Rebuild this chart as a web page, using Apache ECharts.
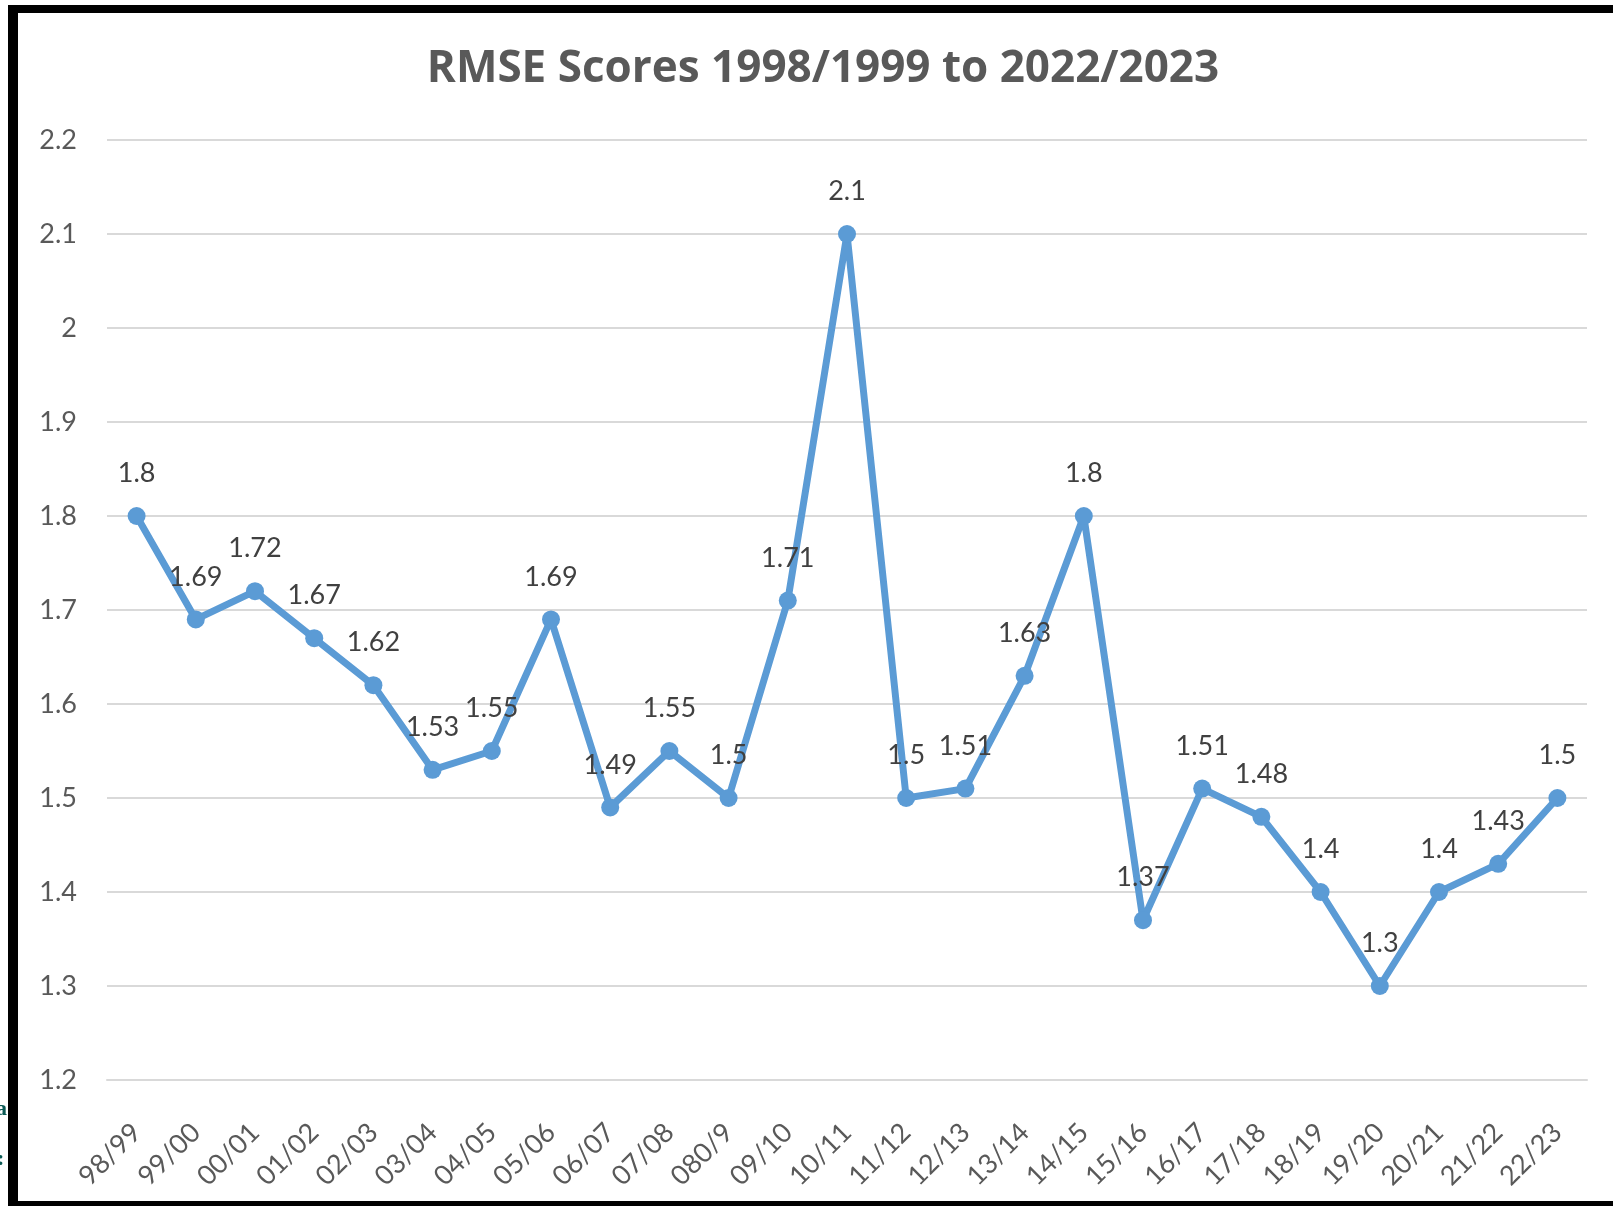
<!DOCTYPE html>
<html>
<head>
<meta charset="utf-8">
<script src="https://cdn.jsdelivr.net/npm/echarts@6/dist/echarts.min.js"></script>
<style>
html,body{margin:0;padding:0;background:#fff;}
#chart{width:1613px;height:1206px;}
</style>
</head>
<body>
<div id="chart"></div>
<script>
const seasons = ['98/99','99/00','00/01','01/02','02/03','03/04','04/05','05/06','06/07','07/08','080/9','09/10','10/11','11/12','12/13','13/14','14/15','15/16','16/17','17/18','18/19','19/20','20/21','21/22','22/23'];
const rmse = [1.8,1.69,1.72,1.67,1.62,1.53,1.55,1.69,1.49,1.55,1.5,1.71,2.1,1.5,1.51,1.63,1.8,1.37,1.51,1.48,1.4,1.3,1.4,1.43,1.5];
const titleText = 'RMSE Scores 1998/1999 to 2022/2023';

const chart = echarts.init(document.getElementById('chart'));
const FONT = 'Lato, "Open Sans", sans-serif';
chart.setOption({
  backgroundColor: '#ffffff',
  animation: false,
  title: {
    text: titleText,
    left: 818, top: 42, textAlign: 'center',
    textStyle: {fontFamily: '"Open Sans", sans-serif', fontWeight: 'bold', fontSize: 44, color: '#595959'}
  },
  grid: {left: 107, right: 26, top: 140, bottom: 126},
  xAxis: {
    type: 'category',
    data: seasons,
    boundaryGap: true,
    axisLine: {show: true, lineStyle: {color: '#d9d9d9', width: 2}},
    axisTick: {show: false},
    axisLabel: {rotate: 45, margin: 48, fontFamily: FONT, fontSize: 27, color: '#595959', interval: 0}
  },
  yAxis: {
    type: 'value',
    min: 1.2, max: 2.2, interval: 0.1,
    axisLine: {show: false},
    axisTick: {show: false},
    splitLine: {lineStyle: {color: '#d9d9d9', width: 2}},
    axisLabel: {margin: 30, fontFamily: FONT, fontSize: 27, color: '#595959',
      formatter: v => String(parseFloat(v.toFixed(1)))}
  },
  series: [{
    type: 'line',
    data: rmse,
    symbol: 'circle',
    symbolSize: 18,
    lineStyle: {color: '#5b9bd5', width: 7},
    itemStyle: {color: '#5b9bd5'},
    label: {show: true, position: 'top', distance: 20, fontFamily: FONT, fontSize: 27, color: '#404040'}
  }],
  graphic: [
    {type: 'rect', shape: {x: 8, y: 5, width: 1605, height: 8}, style: {fill: '#000'}},
    {type: 'rect', shape: {x: 8, y: 5, width: 10, height: 1201}, style: {fill: '#000'}},
    {type: 'rect', shape: {x: 8, y: 1201, width: 1605, height: 5}, style: {fill: '#000'}},
    {type: 'text', left: -4, top: 1098, style: {text: 'a', font: 'bold 22px "Liberation Serif", serif', fill: '#0b5a55'}},
    {type: 'text', left: -3, top: 1148, style: {text: ':', font: 'bold 22px "Liberation Serif", serif', fill: '#0b5a55'}}
  ]
});
</script>
</body>
</html>
